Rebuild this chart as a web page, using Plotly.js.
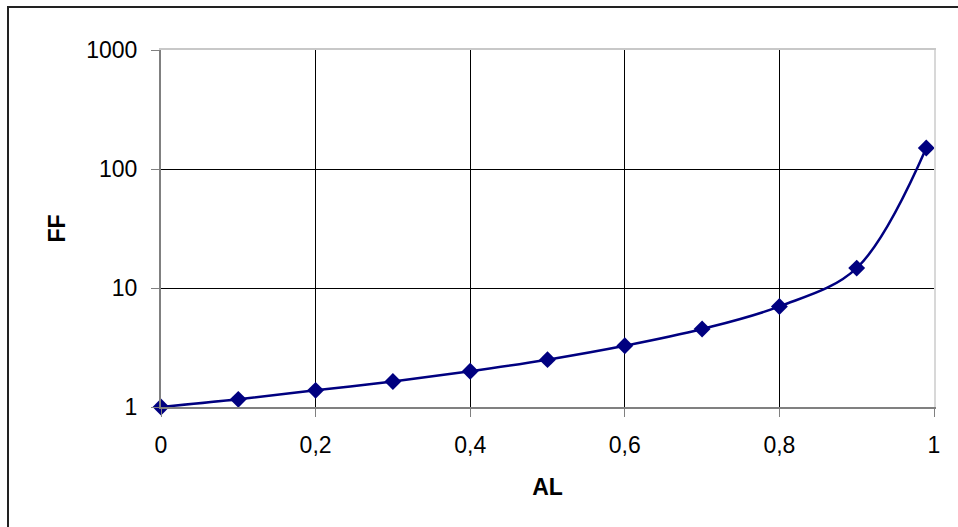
<!DOCTYPE html>
<html>
<head>
<meta charset="utf-8">
<script src="https://cdn.plot.ly/plotly-3.0.1.min.js"></script>
<style>html,body{margin:0;padding:0;background:#fff;}#chart{width:958px;height:527px;}</style>
</head>
<body>
<div id="chart"></div>
<script>
// Data
const AL = [0, 0.1, 0.2, 0.3, 0.4, 0.5, 0.6, 0.7, 0.8, 0.9, 0.99];
const FF = [1, 1.16, 1.38, 1.64, 2.0, 2.5, 3.27, 4.52, 7.0, 14.7, 150];
const yTickVals = [1, 10, 100, 1000];
const yTickText = ['1', '10', '100', '1000'];
const xTickVals = [0, 0.2, 0.4, 0.6, 0.8, 1];
const gridX = [0.2, 0.4, 0.6, 0.8];
const gridY = [10, 100];

const FONT = 'Liberation Sans, Arial, sans-serif';
const plotL = 161, plotR = 934, plotT = 50, plotB = 407, W = 958, H = 527;
const pw = plotR - plotL, ph = plotB - plotT;
const px = v => (v - plotL) / pw;
const py = v => (plotB - v) / ph;

const traces = [
  {
    x: AL, y: FF, type: 'scatter', mode: 'lines+markers', cliponaxis: false,
    line: {color: '#000080', width: 2.5, shape: 'spline', smoothing: 1},
    marker: {symbol: 'diamond', size: 13, color: '#000080'},
    hoverinfo: 'x+y', showlegend: false
  },
  { x: [], y: [], xaxis: 'x2', yaxis: 'y2', type: 'scatter', mode: 'lines', showlegend: false, hoverinfo: 'skip' }
];

const layout = {
  width: W, height: H,
  margin: {l: plotL, r: W - plotR, t: plotT, b: H - plotB, pad: 0},
  paper_bgcolor: '#ffffff', plot_bgcolor: '#ffffff',
  separators: ',.',
  font: {family: FONT, size: 23, color: '#000'},
  showlegend: false,
  xaxis: {
    range: [0, 1], tickvals: xTickVals, tickformat: '.1~f',
    showgrid: false, zeroline: false,
    showline: true, linecolor: '#808080', linewidth: 2,
    ticks: 'outside', ticklen: 8, tickcolor: '#808080', tickwidth: 1,
    ticklabelstandoff: 8,
    tickfont: {family: FONT, size: 23, color: '#000'},
    title: {text: '<b>AL</b>', font: {family: FONT, size: 23, color: '#000'}, standoff: 22},
    automargin: false, fixedrange: true
  },
  yaxis: {
    type: 'log', range: [0, 3], tickvals: yTickVals, ticktext: yTickText,
    showgrid: false, zeroline: false,
    showline: true, linecolor: '#808080', linewidth: 2,
    ticks: 'outside', ticklen: 8, tickcolor: '#808080', tickwidth: 1,
    ticklabelstandoff: 9,
    tickfont: {family: FONT, size: 23, color: '#000'},
    title: {text: '<b>FF</b>', font: {family: FONT, size: 23, color: '#000'}, standoff: 14},
    automargin: false, fixedrange: true
  },
  xaxis2: {
    overlaying: 'x', anchor: 'y2', side: 'top', range: [0, 1], tickvals: gridX,
    showticklabels: false, ticks: '', showgrid: true, gridcolor: '#000000', gridwidth: 1,
    zeroline: false, showline: true, linecolor: '#c8c8c8', linewidth: 2, fixedrange: true
  },
  yaxis2: {
    overlaying: 'y', anchor: 'x2', side: 'right', type: 'log', range: [0, 3], tickvals: gridY,
    showticklabels: false, ticks: '', showgrid: true, gridcolor: '#000000', gridwidth: 1,
    zeroline: false, showline: true, linecolor: '#d8d8d8', linewidth: 2, fixedrange: true
  },
  shapes: [
    {type: 'rect', xref: 'paper', yref: 'paper', x0: px(8), x1: px(975), y0: py(545), y1: py(7),
     line: {color: '#222222', width: 2}, fillcolor: 'rgba(0,0,0,0)', layer: 'above'}
  ]
};

Plotly.newPlot('chart', traces, layout, {displayModeBar: false, staticPlot: true});
</script>
</body>
</html>
